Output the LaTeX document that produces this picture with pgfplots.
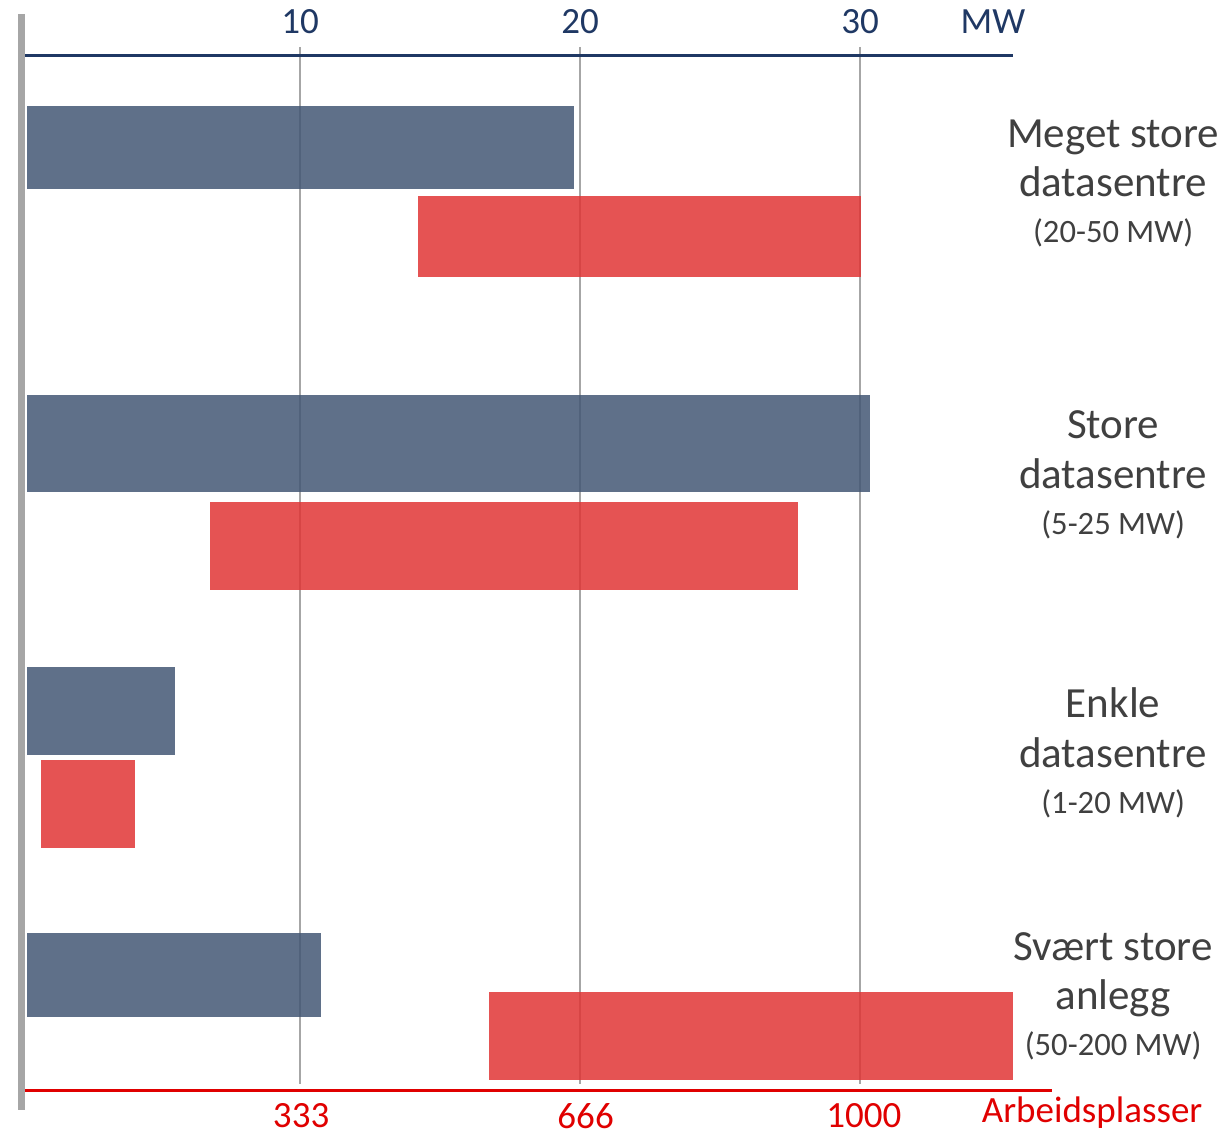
\documentclass[border=0pt]{standalone}
\usepackage{fontspec}
\setmainfont{Carlito}
\usepackage{pgfplots}
\pgfplotsset{compat=1.18}

\definecolor{barblue}{HTML}{435774}
\definecolor{barred}{HTML}{E03535}
\definecolor{navy}{HTML}{1F3864}
\definecolor{axred}{HTML}{E00000}
\definecolor{txtgray}{HTML}{404040}
\definecolor{gridgray}{HTML}{A6A6A6}

% one floating bar: colour, x from, x to (MW), y top, y bottom
\newcommand\fbar[5]{\addplot[fill=#1, fill opacity=0.85, draw=none]
  coordinates {(#2,#4) (#3,#4) (#3,#5) (#2,#5)} -- cycle;}

\pgfplotsset{frame/.style={scale only axis, width=496.5pt, height=518.5pt,
  xmin=0, xmax=35.464, ymin=47, ymax=1084, y dir=reverse,
  axis line style={draw=none}, ytick=\empty, major tick length=0pt,
  xtick={10,20,30}, clip=false}}
\tikzset{cat/.style={anchor=base, txtgray, font=\fontsize{21.5}{21.5}\selectfont},
  rng/.style={anchor=base, txtgray, font=\fontsize{16.3}{16.3}\selectfont}}

\begin{document}
\begin{tikzpicture}
\begin{axis}[frame,
  xticklabels={10,20,30}, xticklabel pos=upper,
  xmajorgrids, grid style={gridgray, line width=1.2pt},
  xticklabel style={navy, font=\fontsize{18.5}{18.5}\selectfont, yshift=3pt}]
  % Meget store datasentre
  \fbar{barblue}{0.25}{19.79}{106}{189}
  \fbar{barred}{14.21}{30.04}{196}{277}
  % Store datasentre
  \fbar{barblue}{0.25}{30.36}{395}{492}
  \fbar{barred}{6.79}{27.79}{502}{590}
  % Enkle datasentre
  \fbar{barblue}{0.25}{5.54}{667}{755}
  \fbar{barred}{0.75}{4.11}{760}{848}
  % Svaert store anlegg
  \fbar{barblue}{0.25}{10.75}{933}{1017}
  \fbar{barred}{16.75}{35.46}{992}{1080}

  \draw[navy, line width=1.5pt] (axis cs:0,56) -- (axis cs:35.464,56);
  \draw[axred, line width=1.5pt] (axis cs:0.15,1090) -- (axis cs:36.86,1090);
  \draw[gridgray, line width=3.5pt] (axis cs:0.036,14) -- (axis cs:0.036,1110);

  \node[anchor=base, navy, font=\fontsize{18.5}{18.5}\selectfont] at (axis cs:34.75,34) {MW};
  \node[anchor=base, axred, font=\fontsize{18.5}{18.5}\selectfont] at (axis cs:38.29,1122) {Arbeidsplasser};

  \node[cat] at (axis cs:39.04,148) {Meget store};
  \node[cat] at (axis cs:39.04,197) {datasentre};
  \node[rng] at (axis cs:39.04,243) {(20-50 MW)};
  \node[cat] at (axis cs:39.04,438) {Store};
  \node[cat] at (axis cs:39.04,488) {datasentre};
  \node[rng] at (axis cs:39.04,534) {(5-25 MW)};
  \node[cat] at (axis cs:39.04,717) {Enkle};
  \node[cat] at (axis cs:39.04,767) {datasentre};
  \node[rng] at (axis cs:39.04,813) {(1-20 MW)};
  \node[cat] at (axis cs:39.04,960) {Svært store};
  \node[cat] at (axis cs:39.04,1009) {anlegg};
  \node[rng] at (axis cs:39.04,1055) {(50-200 MW)};

  \path (axis cs:-0.7143,0) rectangle (axis cs:43.214,1131);
\end{axis}
\begin{axis}[frame, xtick={10.04,20.2,30.14},
  xticklabels={333,666,1000}, xticklabel pos=lower,
  xticklabel style={axred, font=\fontsize{18.5}{18.5}\selectfont, yshift=-6pt}]
\end{axis}
\end{tikzpicture}
\end{document}
